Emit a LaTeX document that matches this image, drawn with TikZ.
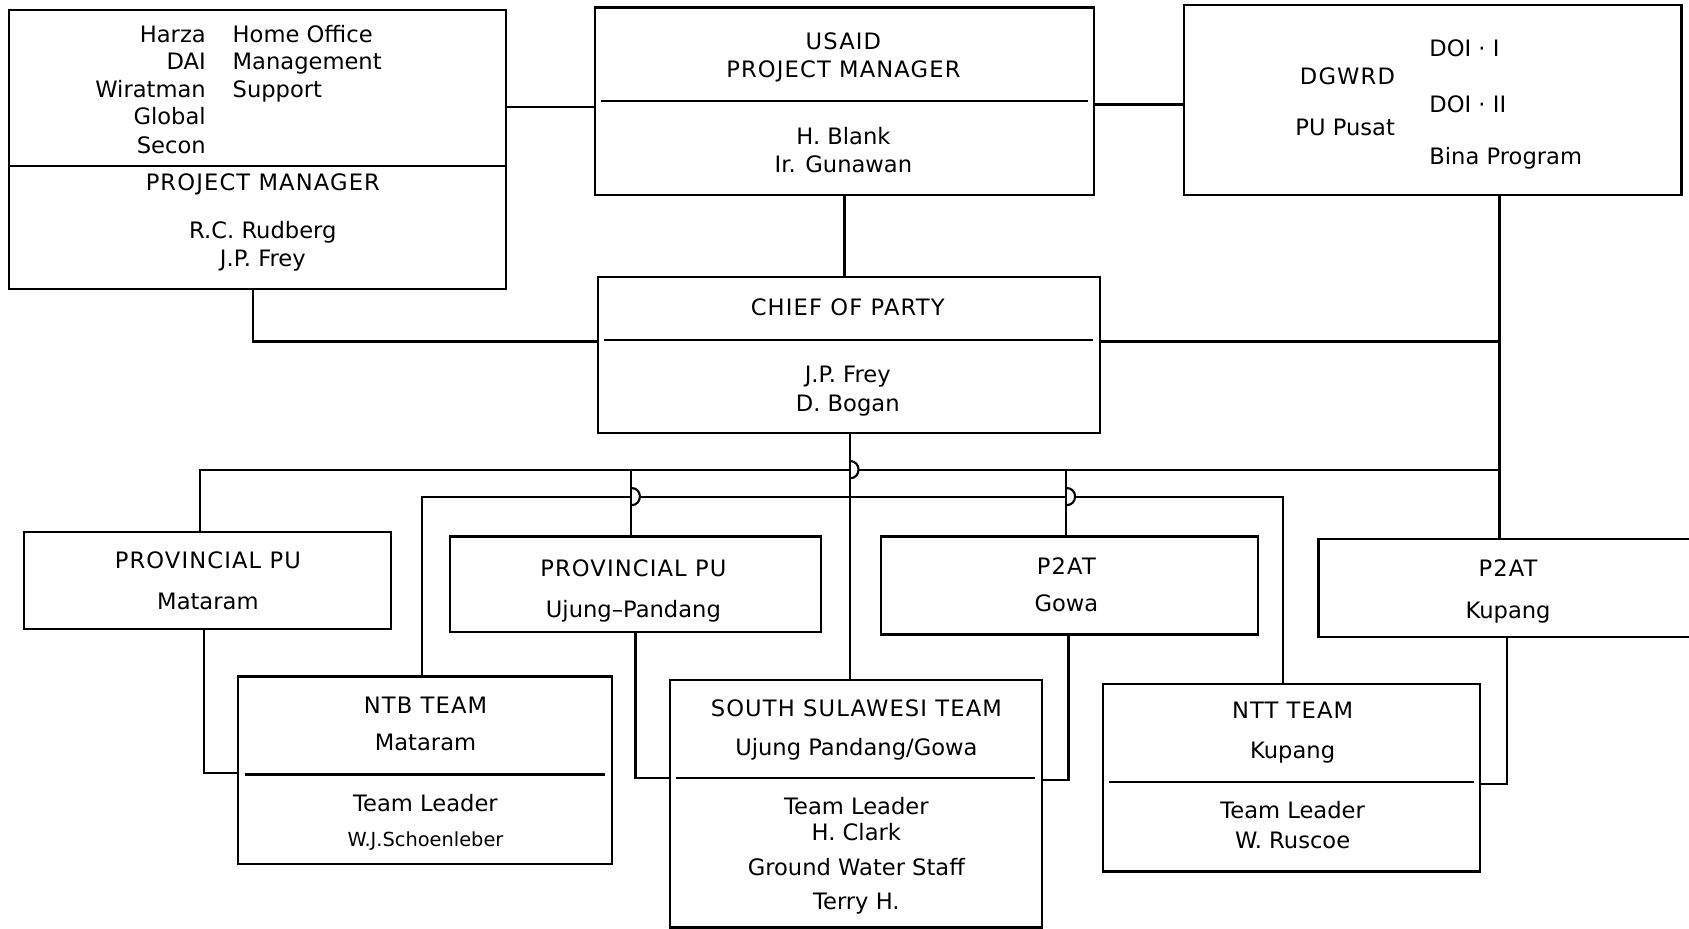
\documentclass[tikz,border=0pt]{standalone}
\usepackage{fontspec}
\setmainfont{DejaVu Sans}
\usetikzlibrary{fit}
\newcommand\fsz{\fontsize{10.5}{12}\selectfont}
\newcommand\fsm{\fontsize{9}{10}\selectfont}
\newcommand\capsp{\addfontfeature{LetterSpace=5}}
\begin{document}
\begin{tikzpicture}[x={(0.5pt,0)}, y={(0,-0.5pt)}, line width=1pt,
  bx/.style={draw, rectangle, inner sep=0pt, outer sep=0pt},
  tc/.style={inner sep=0pt, anchor=base, font=\fsz},
  tl/.style={inner sep=0pt, anchor=base west, font=\fsz},
  tr/.style={inner sep=0pt, anchor=base east, font=\fsz},
  hd/.style={tc, font=\fsz\capsp}]
\useasboundingbox (0,0) rectangle (1568,862);

% ---------- boxes ----------
\node[bx, fit={(8,9) (470,268)}] (ho) {};
\node[bx, fit={(552,7) (1016,181)}] (usaid) {};
\node[bx, fit={(1099,5) (1561,181)}] (dgwrd) {};
\node[bx, fit={(555,257) (1021,402)}] (chief) {};
\node[bx, fit={(22,494) (363,584)}] (ppm) {};
\node[bx, fit={(418,498) (762,587)}] (ppu) {};
\node[bx, fit={(818,498) (1168,589)}] (ptg) {};
\node[bx, fit={(1224,500) (1585,591)}] (ptk) {};
\node[bx, fit={(221,628) (568,802)}] (ntb) {};
\node[bx, fit={(622,631) (967,861)}] (ss) {};
\node[bx, fit={(1024,635) (1374,809)}] (ntt) {};

% ---------- dividers ----------
\draw (ho.west |- 0,154) -- (ho.east |- 0,154);
\draw ([xshift=3pt]usaid.west |- 0,94) -- ([xshift=-3pt]usaid.east |- 0,94);
\draw ([xshift=3pt]chief.west |- 0,316) -- ([xshift=-3pt]chief.east |- 0,316);
\draw ([xshift=3pt]ntb.west |- 0,719) -- ([xshift=-3pt]ntb.east |- 0,719);
\draw ([xshift=3pt]ss.west |- 0,722) -- ([xshift=-3pt]ss.east |- 0,722);
\draw ([xshift=3pt]ntt.west |- 0,726) -- ([xshift=-3pt]ntt.east |- 0,726);

% ---------- texts ----------
\node[tr] (h1) at (192,39.5) {Harza};
\node[tr] (h2) at (192,64.6) {DAI};
\node[tr] (h3) at (192,90.5) {Wiratman};
\node[tr] (h4) at (192,115.6) {Global};
\node[tr] (h5) at (192,142.5) {Secon};
\node[tl] (h6) at (215,39.5) {Home Office};
\node[tl] (h7) at (215,64.6) {Management};
\node[tl] (h8) at (215,90.5) {Support};
\node[hd] (h9) at (244,177) {PROJECT MANAGER};
\node[tc] (h10) at (244,221) {R.C. Rudberg};
\node[tc] (h11) at (244,247) {J.P. Frey};

\node[hd] (u1) at (783,46) {USAID};
\node[hd] (u2) at (783,72) {PROJECT MANAGER};
\node[tc] (u3) at (783,134) {H. Blank};
\node[tc] (u4) at (783,160) {Ir. Gunawan};

\node[tl] (d1) at (1326,52) {DOI · I};
\node[tr] (d2) at (1296,78) {\capsp DGWRD};
\node[tl] (d3) at (1326,104) {DOI · II};
\node[tr] (d4) at (1296,126) {PU Pusat};
\node[tl] (d5) at (1326,153) {Bina Program};

\node[hd] (c1) at (787,293) {CHIEF OF PARTY};
\node[tc] (c2) at (787,355) {J.P. Frey};
\node[tc] (c3) at (787,382) {D. Bogan};

\node[hd] (m1) at (193,528) {PROVINCIAL PU};
\node[tc] (m2) at (193,566) {Mataram};
\node[hd] (p1) at (588,535) {PROVINCIAL PU};
\node[tc] (p2) at (588,573) {Ujung–Pandang};
\node[hd] (g1) at (990,533) {P2AT};
\node[tc] (g2) at (990,568) {Gowa};
\node[hd] (k1t) at (1400,535) {P2AT};
\node[tc] (k2t) at (1400,574) {Kupang};

\node[hd] (n1) at (395,662) {NTB TEAM};
\node[tc] (n2) at (395,697) {Mataram};
\node[tc] (n3) at (395,753) {Team Leader};
\node[tc, font=\fsm] (n4) at (395,786) {W.J.Schoenleber};

\node[hd] (s1) at (795,665) {SOUTH SULAWESI TEAM};
\node[tc] (s2) at (795,701) {Ujung Pandang/Gowa};
\node[tc] (s3) at (795,756) {Team Leader};
\node[tc] (s4) at (795,780) {H. Clark};
\node[tc] (s5) at (795,813) {Ground Water Staff};
\node[tc] (s6) at (795,844) {Terry H.};

\node[hd] (e1) at (1200,667) {NTT TEAM};
\node[tc] (e2) at (1200,704) {Kupang};
\node[tc] (e3) at (1200,760) {Team Leader};
\node[tc] (e4) at (1200,788) {W. Ruscoe};

% ---------- connectors ----------
\coordinate (jHU) at (510,99);
\draw (jHU -| ho.east) -- (jHU -| usaid.west);
\coordinate (jUD) at (1058,97);
\draw (jUD -| usaid.east) -- (jUD -| dgwrd.west);
\coordinate (vUC) at (784,220);
\draw (vUC |- usaid.south) -- (vUC |- chief.north);
\coordinate (jL) at (235,317);
\draw (jL |- ho.south) -- (jL) -- (jL -| chief.west);
\coordinate (jR) at (1392,317);
\draw (jR -| chief.east) -- (jR);
\draw (jR |- dgwrd.south) -- (jR |- ptk.north);

% top bus (DGWRD to provincial offices)
\coordinate (b1L) at (186,436);
\coordinate (b1R) at (1392,436);
\coordinate (b1h) at (789,436);
\coordinate (b1k) at (797,436);
\draw (b1L |- ppm.north) -- (b1L) -- (b1h);
\draw (b1k) -- (b1R);

% chief of party down to South Sulawesi, hopping over the top bus
\coordinate (vC) at (789,500);
\draw (vC |- chief.south) -- (vC |- ss.north);
\draw (789,428) .. controls (799.7,428) and (799.7,444) .. (789,444);

% second bus (teams)
\coordinate (b2L) at (392,461);
\coordinate (b2R) at (1191,461);
\coordinate (x1a) at (586,461);
\coordinate (x1b) at (594,461);
\coordinate (x2a) at (990,461);
\coordinate (x2b) at (998,461);
\draw (b2L |- ntb.north) -- (b2L) -- (x1a);
\draw (x1b) -- (x2a);
\draw (x2b) -- (b2R) -- (b2R |- ntt.north);

% drops to Provincial PU Ujung-Pandang and P2AT Gowa with hops
\coordinate (v1) at (586,436);
\draw (v1) -- (v1 |- ppu.north);
\draw (586,453) .. controls (596.7,453) and (596.7,469) .. (586,469);
\coordinate (v2) at (990,436);
\draw (v2) -- (v2 |- ptg.north);
\draw (990,453) .. controls (1000.7,453) and (1000.7,469) .. (990,469);

% offices to teams
\coordinate (k1) at (189,718);
\draw (k1 |- ppm.south) -- (k1) -- (k1 -| ntb.west);
\coordinate (k2) at (590,722);
\draw (k2 |- ppu.south) -- (k2) -- (k2 -| ss.west);
\coordinate (k3) at (992,724);
\draw (k3 |- ptg.south) -- (k3) -- (k3 -| ss.east);
\coordinate (k4) at (1399,728);
\draw (k4 |- ptk.south) -- (k4) -- (k4 -| ntt.east);
\end{tikzpicture}
\end{document}
